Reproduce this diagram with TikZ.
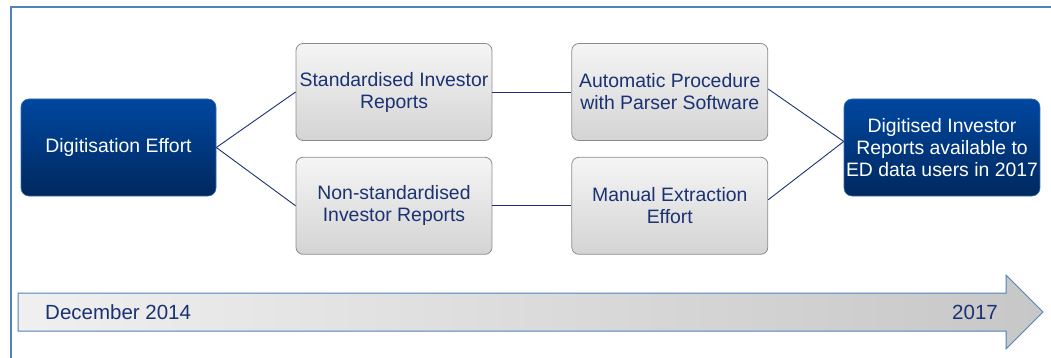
\documentclass[tikz,border=0pt]{standalone}
\usepackage{fontspec}
\setmainfont{Liberation Sans}
\usetikzlibrary{positioning}
\definecolor{navy}{HTML}{1B3272}
\definecolor{edblue}{HTML}{0047A0}
\definecolor{eddark}{HTML}{00285E}
\definecolor{framecol}{HTML}{5082BC}

\begin{document}
\begin{tikzpicture}[x=1pt,y=-1pt,node distance=79pt,font=\fontsize{19.4}{22}\selectfont]
\tikzstyle{greybox}=[rectangle,draw=black!45,line width=0.8pt,rounded corners=7pt,minimum width=196pt,minimum height=97pt,inner sep=2pt,top color=black!4,bottom color=black!17,text=navy,align=center]
\tikzstyle{bluebox}=[rectangle,draw=edblue!80!white,line width=0.6pt,rounded corners=8pt,minimum height=97pt,inner sep=2pt,top color=edblue,bottom color=eddark,text=white,align=center]
\tikzstyle{link}=[draw=navy,line width=0.9pt]
\tikzstyle{date}=[text=navy,inner sep=0pt,font=\fontsize{20.5}{24}\selectfont]
\useasboundingbox (0,0) rectangle (1051,358);
% frame
\draw[framecol,line width=1.3pt] (11,358) -- (11,7) -- (1051,7);
% the two routes
\node[greybox] (std) at (394,92) {Standardised Investor\\Reports};
\node[greybox,below=16pt of std] (nonstd) {Non-standardised\\Investor Reports};
\node[greybox,right=of std] (parser) {Automatic Procedure\\with Parser Software};
\node[greybox,right=of nonstd] (manual) {Manual Extraction\\Effort};
\node[bluebox,minimum width=195pt] (digit) at (118.5,147.5) {Digitisation Effort};
\node[bluebox,minimum width=188pt] (avail) at (942,147.5) {Digitised Investor\\Reports available to\\ED data users in 2017};
\draw[link] (digit.east) -- (std.west);
\draw[link] (digit.east) -- (nonstd.west);
\draw[link] (std) -- (parser);
\draw[link] (nonstd) -- (manual);
\draw[link] ([yshift=3pt]parser.east) -- ([yshift=6pt]avail.west);
\draw[link] ([yshift=6pt]manual.east) -- ([yshift=6pt]avail.west);
% timeline
\draw[framecol,line width=1pt,left color=black!6,right color=black!22] (18,293) -- (1006,293) -- (1006,275) -- (1043,312) -- (1006,349) -- (1006,331) -- (18,331) -- cycle;
\node[date,anchor=west] (from) at (45,312) {December 2014};
\node[date,anchor=east] (to) at (998,312) {2017};
\end{tikzpicture}
\end{document}
